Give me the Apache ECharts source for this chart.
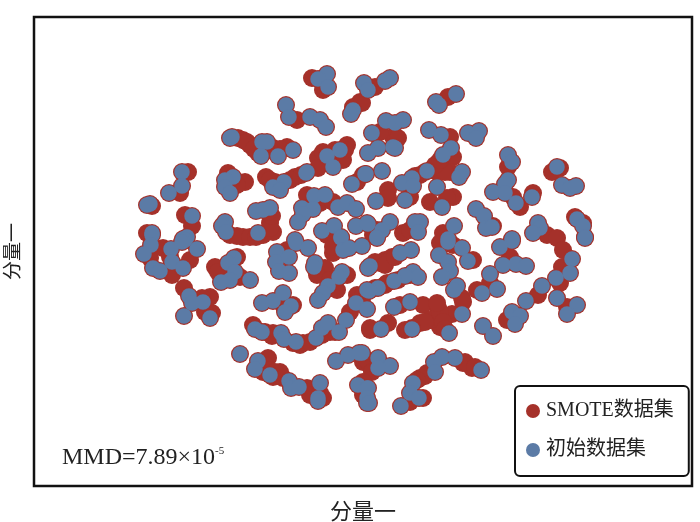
<!DOCTYPE html>
<html><head><meta charset="utf-8">
<script src="https://cdn.jsdelivr.net/npm/echarts@6/dist/echarts.min.js"></script>
<style>html,body{margin:0;padding:0;background:#fff}#c{width:700px;height:522px}</style>
</head><body><div id="c"></div>
<script>
const seriesNames = ['SMOTE数据集', '初始数据集'];
const axisTitle = '分量一';
const original = [
[327,74],[318,79],[328,87],[364,83],[286,105],[289,117],[353,110],[351,114],[310,117],[320,120],[326,127],
[232,137],[230,138],[262,142],[267,142],[261,156],[278,156],[293,150],[340,150],[327,156],[333,167],[307,172],[306,173],
[365,174],[352,184],[182,172],[182,186],[169,193],[233,177],[225,180],[225,187],[230,193],[284,182],[273,187],[280,190],
[150,204],[147,205],[314,196],[325,195],[338,207],[347,203],[356,209],[302,208],[313,209],[303,214],[298,222],
[256,211],[270,208],[263,210],[192,216],[225,222],[222,226],[226,232],[356,226],[367,223],[322,231],[334,226],[341,237],
[152,233],[258,233],[187,237],[183,239],[295,240],
[390,78],[385,81],[368,90],[456,94],[436,102],[439,105],[386,121],[395,123],[403,120],[372,133],[429,130],[441,135],
[468,133],[479,131],[476,138],[393,147],[395,148],[378,148],[368,153],[451,148],[443,155],[508,155],[512,162],
[382,171],[366,174],[462,172],[459,177],[557,167],[427,171],[412,178],[402,183],[413,186],[508,180],[505,184],[437,187],
[562,185],[570,188],[576,186],[493,192],[505,193],[405,200],[376,201],[516,203],[532,197],[442,207],[476,209],[484,216],
[486,228],[492,227],[577,219],[583,226],[585,237],[390,222],[368,224],[382,230],[377,237],[415,222],[420,222],[418,232],
[454,226],[538,223],[540,228],[533,233],[448,239],[512,239],
[152,235],[151,245],[144,254],[171,249],[197,249],[185,240],[182,242],[172,262],[153,268],[160,271],[183,268],
[234,258],[228,263],[235,272],[230,280],[221,282],[250,280],[189,296],[192,303],[203,302],[210,318],[184,316],
[277,252],[276,262],[279,271],[289,273],[289,257],[296,243],[308,248],[341,238],[343,250],[349,248],[362,246],
[315,263],[314,267],[342,272],[339,277],[328,286],[323,293],[318,300],[262,303],[273,301],[283,293],[291,306],[285,312],
[356,303],[367,290],[367,309],[346,320],[255,329],[262,332],[281,333],[284,339],[296,342],[316,338],[322,328],[328,323],[339,332],
[240,354],[258,361],[255,369],[270,375],[289,381],[291,388],[299,387],[320,383],[318,398],[318,401],[336,361],[348,355],[359,353],
[358,385],[367,388],[367,403],
[377,238],[448,242],[462,248],[439,255],[448,262],[450,271],[442,277],[468,261],[512,241],[500,247],[503,265],[516,264],[526,266],
[585,238],[370,266],[368,268],[400,253],[411,250],[572,259],[570,273],[556,278],[413,272],[418,277],[405,276],[394,281],
[378,288],[369,291],[490,274],[497,289],[482,293],[457,286],[454,290],[542,286],[526,301],[557,298],[577,305],[567,314],
[410,302],[394,307],[512,312],[520,316],[515,324],[462,314],[381,329],[412,329],[449,333],[483,326],[493,336],
[378,358],[390,366],[362,353],[378,368],[442,357],[434,362],[435,372],[455,358],[481,370],[413,383],[410,393],[419,398],[401,406],
[368,388],[367,398],[369,403]
];
const smoteExtra = [
[312,78],[323,90],[297,120],[360,102],[353,107],[243,140],[250,145],[258,153],[273,148],[287,147],[347,145],[343,160],
[318,158],[318,168],[266,177],[275,182],[295,177],[245,182],[237,185],[188,172],[180,193],[228,173],[307,195],[320,203],[333,202],
[152,206],[185,215],[192,226],[270,223],[273,232],[263,235],[243,237],[230,235],[363,175],[357,182],[327,235],[333,233],[147,233],
[375,87],[362,103],[448,97],[393,137],[398,138],[380,132],[450,137],[453,157],[438,163],[437,172],[450,172],[420,175],
[560,168],[552,172],[508,167],[388,190],[388,198],[453,197],[430,202],[447,198],[410,197],[513,197],[520,207],[533,193],
[493,226],[403,233],[410,230],[443,233],[547,235],[557,238],[377,230],[373,235],[583,223],[575,217],
[150,258],[163,248],[170,257],[172,275],[190,260],[215,267],[218,272],[240,277],[237,257],[184,288],[210,297],[202,298],[212,313],[205,312],
[287,250],[282,255],[333,253],[333,247],[325,268],[317,275],[347,275],[337,290],[330,280],[283,305],[293,305],[357,295],[350,312],
[370,330],[253,325],[273,333],[303,343],[293,343],[330,332],[268,358],[263,372],[280,372],[273,377],[307,388],[310,395],[323,398],[320,393],
[363,362],[370,365],[363,395],
[385,260],[380,263],[392,257],[440,243],[453,245],[473,260],[510,257],[563,250],[562,267],[560,283],[387,283],[363,295],[362,302],
[462,298],[463,302],[477,290],[490,283],[538,295],[507,320],[423,305],[400,305],[438,308],[438,315],[432,320],[420,323],[405,330],[440,327],
[452,314],[388,323],[370,328],[567,307],[367,360],[372,372],[463,363],[472,368],[427,373],[420,378],[423,398],[363,382],[410,402],
[237,236],[250,237],[256,237],[270,228],[272,216],[268,212],[238,138],[247,142],[254,149],[280,149],[270,150],
[323,152],[335,150],[345,150],[301,175],[270,180],[290,180],[430,320],[425,322],[412,328],[440,312],[443,322],[445,329],[437,303],
[445,172],[435,165],[440,160],[425,172],[415,176],[375,262],[385,265],[395,257],[265,365],[268,370],[275,372],[283,378],
[385,285],[398,280],[410,275],[375,288],[265,332],[272,336],[300,345],[310,342],[322,335],[335,332],
[425,376],[417,380],[465,362],[475,367]
];
const smote = smoteExtra.concat(original);
const chart = echarts.init(document.getElementById('c'), null, {renderer:'canvas'});
const serif = '"Liberation Serif","Noto Sans CJK SC",serif';
chart.setOption({
  animation:false,
  backgroundColor:'#fff',
  textStyle:{fontFamily:serif},
  title:{
    left:62, top:446, padding:0,
    text:'MMD=7.89×10{sup|-5}',
    textStyle:{fontSize:24,fontWeight:'normal',color:'#222',fontFamily:serif,
      rich:{sup:{fontSize:11,color:'#222',fontFamily:serif,verticalAlign:'top',padding:[0,0,8,0]}}}
  },
  legend:{
    left:515, top:386, orient:'vertical', selectedMode:false,
    padding:[15,15,16,11], itemGap:19,
    itemWidth:16,itemHeight:14,
    icon:'circle',
    backgroundColor:'#fff',
    borderColor:'#111',borderWidth:2,borderRadius:5,
    textStyle:{fontSize:20,color:'#222',fontFamily:serif},
    data:seriesNames
  },
  grid:{left:34,top:17,right:8,bottom:36,outerBoundsMode:'none',show:true,borderColor:'#111',borderWidth:2.5,backgroundColor:'#fff'},
  xAxis:{type:'value',min:34,max:692,axisLine:{show:false},axisTick:{show:false},axisLabel:{show:false},splitLine:{show:false},
    name:axisTitle,nameLocation:'middle',nameGap:16,nameTextStyle:{fontSize:22,color:'#222',fontFamily:serif}},
  yAxis:{type:'value',inverse:true,min:17,max:486,axisLine:{show:false},axisTick:{show:false},axisLabel:{show:false},splitLine:{show:false},
    name:axisTitle,nameLocation:'middle',nameGap:10,nameTextStyle:{fontSize:19,color:'#222',fontFamily:serif}},
  series:[
    {name:seriesNames[0],type:'scatter',data:smote,symbol:'circle',symbolSize:18,itemStyle:{color:'#a5312a',opacity:1,borderWidth:0}},
    {name:seriesNames[1],type:'scatter',data:original,symbol:'circle',symbolSize:15.5,itemStyle:{color:'#5b7ba6',opacity:1,borderWidth:0,borderColor:'transparent'}}
  ]
});
</script></body></html>
